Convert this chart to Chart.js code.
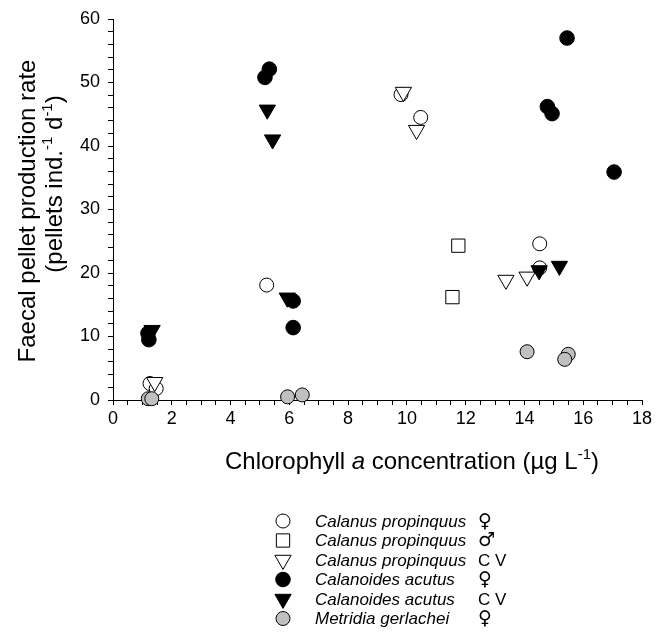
<!DOCTYPE html>
<html>
<head>
<meta charset="utf-8">
<script src="https://cdn.jsdelivr.net/npm/chart.js@4/dist/chart.umd.min.js"></script>
<style>
  html, body { margin: 0; padding: 0; background: #fff; }
  #wrap { width: 656px; height: 643px; position: relative; }
</style>
</head>
<body>
<div id="wrap"><canvas id="c" width="656" height="643"></canvas></div>
<script>
// ---- data (x = chlorophyll a, y = pellets ind-1 d-1) ----
const cpFemale = [[5.23,18.1],[1.26,2.6],[1.47,1.8],[9.8,48.1],[10.47,44.5],[14.52,24.6],[14.52,20.8]];
const cpMale   = [[11.75,24.3],[11.55,16.2]];
const cpCV     = [[9.88,48.5],[10.33,42.5],[13.37,18.9],[14.09,19.4],[1.42,2.8]];
const caFemale = [[5.32,52.1],[5.17,50.8],[15.45,57.0],[14.78,46.2],[14.94,45.1],[17.05,35.9],[6.13,15.6],[6.13,11.4],[1.19,10.5],[1.22,9.5]];
const caCV     = [[5.25,45.7],[5.43,41.0],[5.93,16.1],[1.33,11.0],[14.5,20.4],[15.19,21.1]];
const mgFemale = [[14.09,7.6],[15.49,7.2],[15.37,6.4],[5.94,0.5],[6.44,0.8],[1.2,0.2],[1.32,0.2]];

const legendNames    = ['Calanus propinquus','Calanus propinquus','Calanus propinquus','Calanoides acutus','Calanoides acutus','Metridia gerlachei'];
const legendSuffixes = ['\u2640','\u2642','C V','\u2640','C V','\u2640'];
const xTitleParts = [['Chlorophyll ','n'],['a','i'],[' concentration (\u00b5g L','n'],['-1','s'],[')','n']];
const yTitle1 = 'Faecal pellet production rate';
const yTitle2Parts = [['(pellets ind.','n'],['-1','s'],[' d','n'],['-1','s'],[')','n']];

const toPts = a => a.map(p => ({x:p[0], y:p[1]}));

const styles = [
  {style:'circle',   r:7,   fill:'#ffffff', rot:0},
  {style:'rect',     r:9.4, fill:'#ffffff', rot:0},
  {style:'triangle', r:9.4, fill:'#ffffff', rot:180},
  {style:'circle',   r:7.3, fill:'#000000', rot:0},
  {style:'triangle', r:9.4, fill:'#000000', rot:180},
  {style:'circle',   r:7,   fill:'#c0c0c0', rot:0}
];
const seriesData = [cpFemale, cpMale, cpCV, caFemale, caCV, mgFemale];

const datasets = seriesData.map((d,i) => ({
  label: legendNames[i] + ' ' + legendSuffixes[i],
  data: toPts(d),
  pointStyle: styles[i].style,
  pointRadius: styles[i].r,
  pointHoverRadius: styles[i].r,
  pointRotation: styles[i].rot,
  backgroundColor: styles[i].fill,
  borderColor: '#000000',
  pointBorderWidth: 1,
  borderWidth: 1,
  showLine: false,
  clip: false,
  order: 6 - i
}));

const FONT = '"Liberation Sans", Arial, sans-serif';

function drawMarker(ctx, s, x, y) {
  ctx.save();
  ctx.fillStyle = s.fill; ctx.strokeStyle = '#000'; ctx.lineWidth = 1;
  ctx.beginPath();
  if (s.style === 'circle') {
    ctx.arc(x, y, s.r, 0, Math.PI*2);
  } else if (s.style === 'rect') {
    const h = s.r * Math.SQRT1_2;
    ctx.rect(x-h, y-h, 2*h, 2*h);
  } else {
    let rad = s.rot * Math.PI/180;
    for (let k=0;k<3;k++) {
      const px = x + Math.sin(rad)*s.r, py = y - Math.cos(rad)*s.r;
      if (k===0) ctx.moveTo(px,py); else ctx.lineTo(px,py);
      rad += 2*Math.PI/3;
    }
    ctx.closePath();
  }
  ctx.fill(); ctx.stroke();
  ctx.restore();
}

function partsWidth(ctx, parts, size) {
  let w = 0;
  for (const [t,k] of parts) {
    ctx.font = (k==='i' ? 'italic ' : '') + (k==='s' ? Math.round(size*0.62) : size) + 'px ' + FONT;
    w += ctx.measureText(t).width;
  }
  return w;
}
function drawParts(ctx, parts, size, cx, baseline) {
  let x = cx - partsWidth(ctx, parts, size)/2;
  ctx.textAlign = 'left'; ctx.textBaseline = 'alphabetic'; ctx.fillStyle = '#000';
  for (const [t,k] of parts) {
    const sz = k==='s' ? Math.round(size*0.62) : size;
    ctx.font = (k==='i' ? 'italic ' : '') + sz + 'px ' + FONT;
    ctx.fillText(t, x, k==='s' ? baseline - size*0.42 : baseline);
    x += ctx.measureText(t).width;
  }
}

const textPlugin = {
  id: 'texts',
  afterDraw(chart) {
    const ctx = chart.ctx;
    ctx.save();
    // x title
    drawParts(ctx, xTitleParts, 24, 412, 469);
    // y title line 1
    ctx.save();
    ctx.translate(35, 211); ctx.rotate(-Math.PI/2);
    ctx.font = '24px ' + FONT; ctx.textAlign = 'center'; ctx.textBaseline = 'alphabetic'; ctx.fillStyle = '#000';
    ctx.fillText(yTitle1, 0, 0);
    ctx.restore();
    ctx.save();
    ctx.translate(62, 184); ctx.rotate(-Math.PI/2);
    drawParts(ctx, yTitle2Parts, 24, 0, 0);
    ctx.restore();
    // legend
    const y0 = 521, dy = 19.5;
    for (let i=0;i<legendNames.length;i++) {
      const y = y0 + i*dy;
      drawMarker(ctx, styles[i], 283, y);
      ctx.fillStyle = '#000'; ctx.textAlign = 'left'; ctx.textBaseline = 'middle';
      ctx.font = 'italic 17px ' + FONT;
      ctx.fillText(legendNames[i], 315, y + 1);
      const suf = legendSuffixes[i];
      if (suf === 'C V') { ctx.font = '17px ' + FONT; ctx.fillText(suf, 478, y + 1); }
      else { ctx.font = '19px "DejaVu Sans", sans-serif'; ctx.fillText(suf, 478, y + 1); }
    }
    ctx.restore();
  }
};

new Chart(document.getElementById('c'), {
  type: 'scatter',
  data: { datasets },
  options: {
    responsive: false,
    animation: false,
    events: [],
    layout: { padding: { top: 19, right: 14, left: 0, bottom: 0 } },
    plugins: { legend: { display: false }, tooltip: { enabled: false } },
    scales: {
      x: {
        type: 'linear', min: 0, max: 18,
        afterFit(s) { s.height = 243; },
        border: { display: true, color: '#000', width: 1 },
        grid: { drawOnChartArea: false, drawTicks: true, tickLength: 5, color: '#000' },
        ticks: {
          stepSize: 0.5, autoSkip: false, maxRotation: 0, padding: 3,
          color: '#000', font: { family: FONT, size: 18 },
          callback: v => (Math.abs(v % 2) < 1e-9 ? String(v) : '')
        }
      },
      y: {
        type: 'linear', min: 0, max: 60,
        afterFit(s) { s.width = 113; },
        border: { display: true, color: '#000', width: 1 },
        grid: { drawOnChartArea: false, drawTicks: true, tickLength: 5, color: '#000' },
        ticks: {
          stepSize: 2, autoSkip: false, padding: 8,
          color: '#000', font: { family: FONT, size: 18 },
          callback: v => (Math.abs(v % 10) < 1e-9 ? String(v) : '')
        }
      }
    }
  },
  plugins: [textPlugin]
});
</script>
</body>
</html>
